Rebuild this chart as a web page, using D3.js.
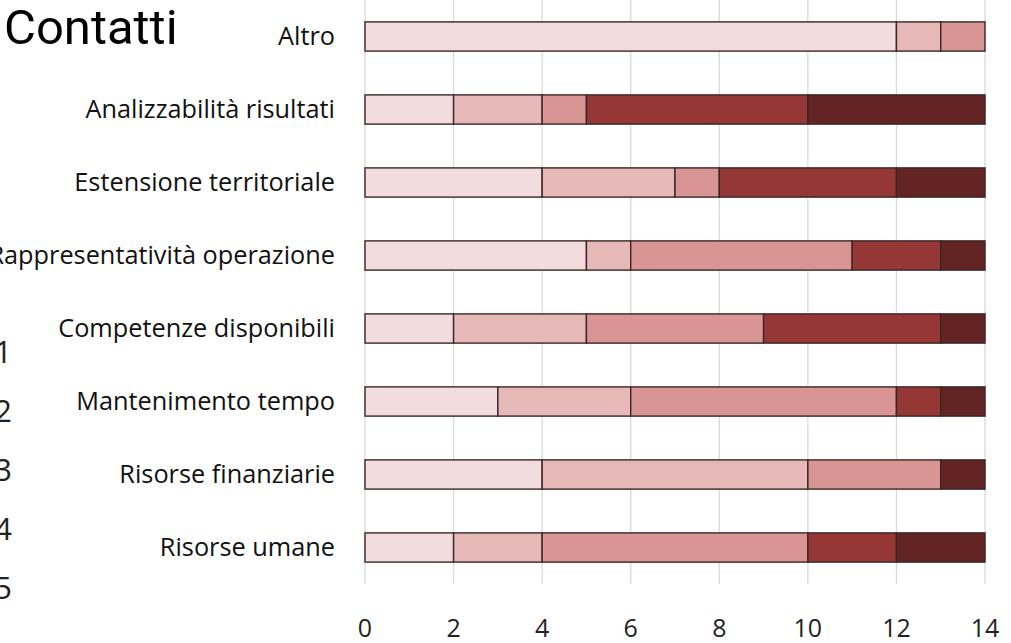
<!DOCTYPE html>
<html>
<head>
<meta charset="utf-8">
<script src="https://cdn.jsdelivr.net/npm/d3@7"></script>
<style>
  html, body { margin: 0; padding: 0; background: #fff; overflow: hidden; }
  svg { display: block; }
  text { font-variant-ligatures: none; }
</style>
</head>
<body>
<svg id="chart" width="1011" height="643"></svg>
<script>
// categories, top to bottom
const categories = ['Altro', 'Analizzabilità risultati', 'Estensione territoriale',
  'Rappresentatività operazione', 'Competenze disponibili', 'Mantenimento tempo',
  'Risorse finanziarie', 'Risorse umane'];

// one array per rating level (1..5), values in category order
const level1 = [12, 2, 4, 5, 2, 3, 4, 2];
const level2 = [1, 2, 3, 1, 3, 3, 6, 2];
const level3 = [1, 1, 1, 5, 4, 6, 3, 6];
const level4 = [0, 5, 4, 2, 4, 1, 0, 2];
const level5 = [0, 4, 2, 1, 1, 1, 1, 2];

const levelNames = ['1', '2', '3', '4', '5'];
const xTicks = [0, 2, 4, 6, 8, 10, 12, 14];

const colors = ['#f2dcdd', '#e6b8b7', '#d99594', '#953735', '#632523'];

const svg = d3.select('#chart');

let rows = categories.map((c, i) => ({
  cat: c, l1: level1[i], l2: level2[i], l3: level3[i], l4: level4[i], l5: level5[i]
}));
let keys = ['l1', 'l2', 'l3', 'l4', 'l5'];
let series = d3.stack().keys(keys)(rows);

let x = d3.scaleLinear().domain([0, 14]).range([365, 985]);
let y = d3.scaleBand().domain(categories).range([0, 584])
  .paddingInner(0.6).paddingOuter(0.3);

// gridlines
svg.append('g').selectAll('line')
  .data(xTicks).enter()
  .append('line')
  .attr('x1', d => x(d)).attr('x2', d => x(d))
  .attr('y1', 0).attr('y2', 584)
  .attr('stroke', '#d9d9d9')
  .attr('stroke-width', 1.3);

// bars
svg.append('g').selectAll('g')
  .data(series).enter()
  .append('g')
  .attr('fill', (d, i) => colors[i])
  .selectAll('rect')
  .data(d => d.filter(p => p[1] > p[0])).enter()
  .append('rect')
  .attr('x', d => x(d[0]))
  .attr('width', d => x(d[1]) - x(d[0]))
  .attr('y', d => y(d.data.cat))
  .attr('height', y.bandwidth())
  .attr('stroke', '#3b2626')
  .attr('stroke-width', 1.4);

// x axis labels
svg.append('g').selectAll('text')
  .data(xTicks).enter()
  .append('text')
  .attr('x', d => x(d))
  .attr('y', 637)
  .attr('text-anchor', 'middle')
  .attr('font-family', 'Open Sans, sans-serif')
  .attr('font-size', 25)
  .attr('fill', '#222')
  .text(d => d);

// category labels
svg.append('g').selectAll('text')
  .data(categories).enter()
  .append('text')
  .attr('x', 335)
  .attr('y', d => y(d) + y.bandwidth() / 2)
  .attr('dy', '0.35em')
  .attr('text-anchor', 'end')
  .attr('font-family', 'Open Sans, sans-serif')
  .attr('font-size', 25.3)
  .attr('fill', '#111')
  .text(d => d);

// legend labels, partly cut at the left edge as in the reference
svg.append('g').selectAll('text')
  .data(levelNames).enter()
  .append('text')
  .attr('x', 12)
  .attr('y', (d, i) => 352 + i * 59)
  .attr('dy', '0.35em')
  .attr('text-anchor', 'end')
  .attr('font-family', 'Open Sans, sans-serif')
  .attr('font-size', 31)
  .attr('fill', '#222')
  .text(d => d);

// title
svg.append('text')
  .attr('x', 4)
  .attr('y', 44)
  .attr('font-family', 'Roboto, Liberation Sans, sans-serif')
  .attr('font-size', 49)
  .attr('fill', '#000')
  .text('Contatti');
</script>
</body>
</html>
